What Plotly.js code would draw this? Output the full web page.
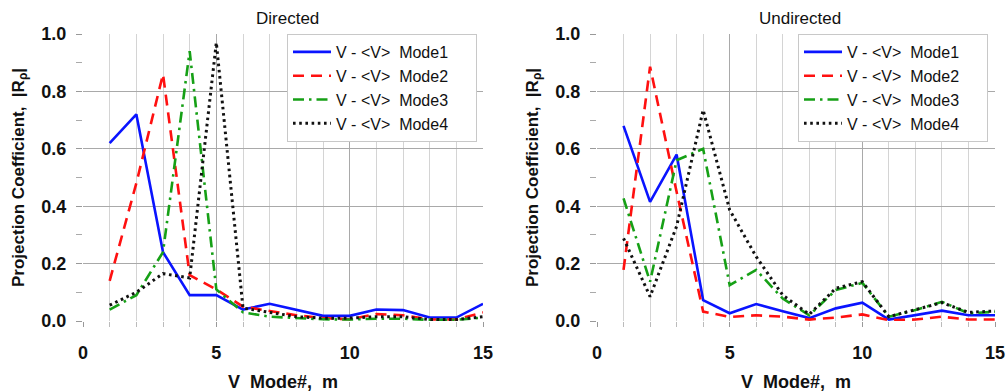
<!DOCTYPE html>
<html>
<head>
<meta charset="utf-8">
<script src="https://cdn.plot.ly/plotly-3.0.1.min.js"></script>
<style>html,body{margin:0;padding:0;background:#fff;}#chart{width:1007px;height:392px;}</style>
</head>
<body>
<div id="chart"></div>
<script>
// V mode number m
const modes = [1,2,3,4,5,6,7,8,9,10,11,12,13,14,15];

// Directed
const dirMode1 = [0.62,0.72,0.24,0.09,0.09,0.04,0.06,0.04,0.018,0.018,0.04,0.038,0.012,0.012,0.06];
const dirMode2 = [0.14,0.48,0.86,0.16,0.11,0.05,0.035,0.02,0.01,0.006,0.024,0.02,0.005,0.005,0.03];
const dirMode3 = [0.04,0.09,0.24,0.94,0.11,0.03,0.015,0.01,0.006,0.005,0.008,0.008,0.004,0.004,0.012];
const dirMode4 = [0.055,0.1,0.165,0.15,0.97,0.045,0.03,0.015,0.01,0.01,0.015,0.015,0.005,0.005,0.015];

// Undirected
const undMode1 = [0.68,0.415,0.58,0.073,0.027,0.059,0.034,0.01,0.044,0.064,0.005,0.02,0.036,0.02,0.02];
const undMode2 = [0.178,0.886,0.45,0.033,0.014,0.02,0.015,0.005,0.012,0.023,0.003,0.005,0.015,0.005,0.005];
const undMode3 = [0.427,0.137,0.56,0.60,0.125,0.178,0.078,0.02,0.108,0.133,0.015,0.038,0.067,0.027,0.032];
const undMode4 = [0.288,0.085,0.33,0.735,0.387,0.224,0.09,0.023,0.114,0.137,0.015,0.04,0.064,0.03,0.035];

const seriesNames = ['V - &lt;V&gt;&nbsp; Mode1','V - &lt;V&gt;&nbsp; Mode2','V - &lt;V&gt;&nbsp; Mode3','V - &lt;V&gt;&nbsp; Mode4'];
const titles = ['Directed','Undirected'];

const styles = [
  {color:'#0a14ff', width:2.6, dash:'solid'},
  {color:'#ff1010', width:2.6, dash:'11px,7px'},
  {color:'#16a016', width:2.6, dash:'11px,5px,2.5px,5px'},
  {color:'#111111', width:3, dash:'2.6px,3.6px'}
];

const dirData = [dirMode1,dirMode2,dirMode3,dirMode4];
const undData = [undMode1,undMode2,undMode3,undMode4];

const pad = '&nbsp;&nbsp;&nbsp;&nbsp;&nbsp;';
const traces = [];
dirData.forEach((ys,i)=>{
  traces.push({x:modes,y:ys,type:'scatter',mode:'lines',name:seriesNames[i]+pad,
    line:styles[i],xaxis:'x',yaxis:'y',legend:'legend'});
});
undData.forEach((ys,i)=>{
  traces.push({x:modes,y:ys,type:'scatter',mode:'lines',name:seriesNames[i]+pad,
    line:styles[i],xaxis:'x2',yaxis:'y2',legend:'legend2'});
});

const font = {family:'"Liberation Sans", Arial, sans-serif', color:'#111'};
const bold = {family:'"Liberation Sans", Arial, sans-serif', color:'#111', weight:'bold'};

function xax(domain, anchor){
  return {domain:domain, anchor:anchor, range:[0,15], tickvals:[0,5,10,15],
    showgrid:true, gridcolor:'#a9a9a9', gridwidth:1,
    ticks:'outside', ticklen:5, tickcolor:'#999', ticklabelstandoff:10,
    minor:{dtick:1, tick0:0, showgrid:true, gridcolor:'#d4d4d4', gridwidth:1, ticks:'outside', ticklen:5, tickcolor:'#bbb'},
    showline:false, zeroline:false,
    tickfont:{...bold, size:18},
    title:{text:'V&nbsp; Mode#,&nbsp; m', font:{...bold, size:18}, standoff:14},
    automargin:false, fixedrange:true};
}
function yax(domain, anchor){
  return {domain:domain, anchor:anchor, range:[0,1.0], dtick:0.2, tick0:0, tickformat:'.1f',
    showgrid:true, gridcolor:'#a9a9a9', gridwidth:1,
    ticks:'outside', ticklen:6, tickcolor:'#999', ticklabelstandoff:6,
    minor:{dtick:0.1, tick0:0, showgrid:false, ticks:'outside', ticklen:6, tickcolor:'#aaa'},
    showline:false, zeroline:false,
    tickfont:{...bold, size:18},
    title:{text:'Projection Coefficient,&nbsp; |R<sub>ρ</sub>|', font:{...bold, size:17}, standoff:12},
    automargin:false, fixedrange:true};
}

const yDom = [1-321/392, 1-34/392];
const legendBase = {xanchor:'left', yanchor:'top', bgcolor:'#fff',
    bordercolor:'#c8c8c8', borderwidth:1, font:{...font, size:16}, tracegroupgap:0, itemwidth:38};
const layout = {
  width:1007, height:392,
  margin:{l:0,r:0,t:0,b:0},
  paper_bgcolor:'#fff', plot_bgcolor:'#fff',
  showlegend:true,
  xaxis: xax([83/1007, 483/1007], 'y'),
  yaxis: yax(yDom, 'x'),
  xaxis2: xax([597/1007, 995/1007], 'y2'),
  yaxis2: yax(yDom, 'x2'),
  legend:{...legendBase, x:287/1007, y:yDom[1]},
  legend2:{...legendBase, x:798/1007, y:yDom[1]},
  annotations:[
    {text:titles[0], xref:'paper', yref:'paper', x:287/1007, y:1-19/392, showarrow:false, xanchor:'center', yanchor:'middle', font:{...font, size:17}},
    {text:titles[1], xref:'paper', yref:'paper', x:800/1007, y:1-19/392, showarrow:false, xanchor:'center', yanchor:'middle', font:{...font, size:17}}
  ]
};

Plotly.newPlot('chart', traces, layout, {staticPlot:true, displayModeBar:false});
</script>
</body>
</html>
